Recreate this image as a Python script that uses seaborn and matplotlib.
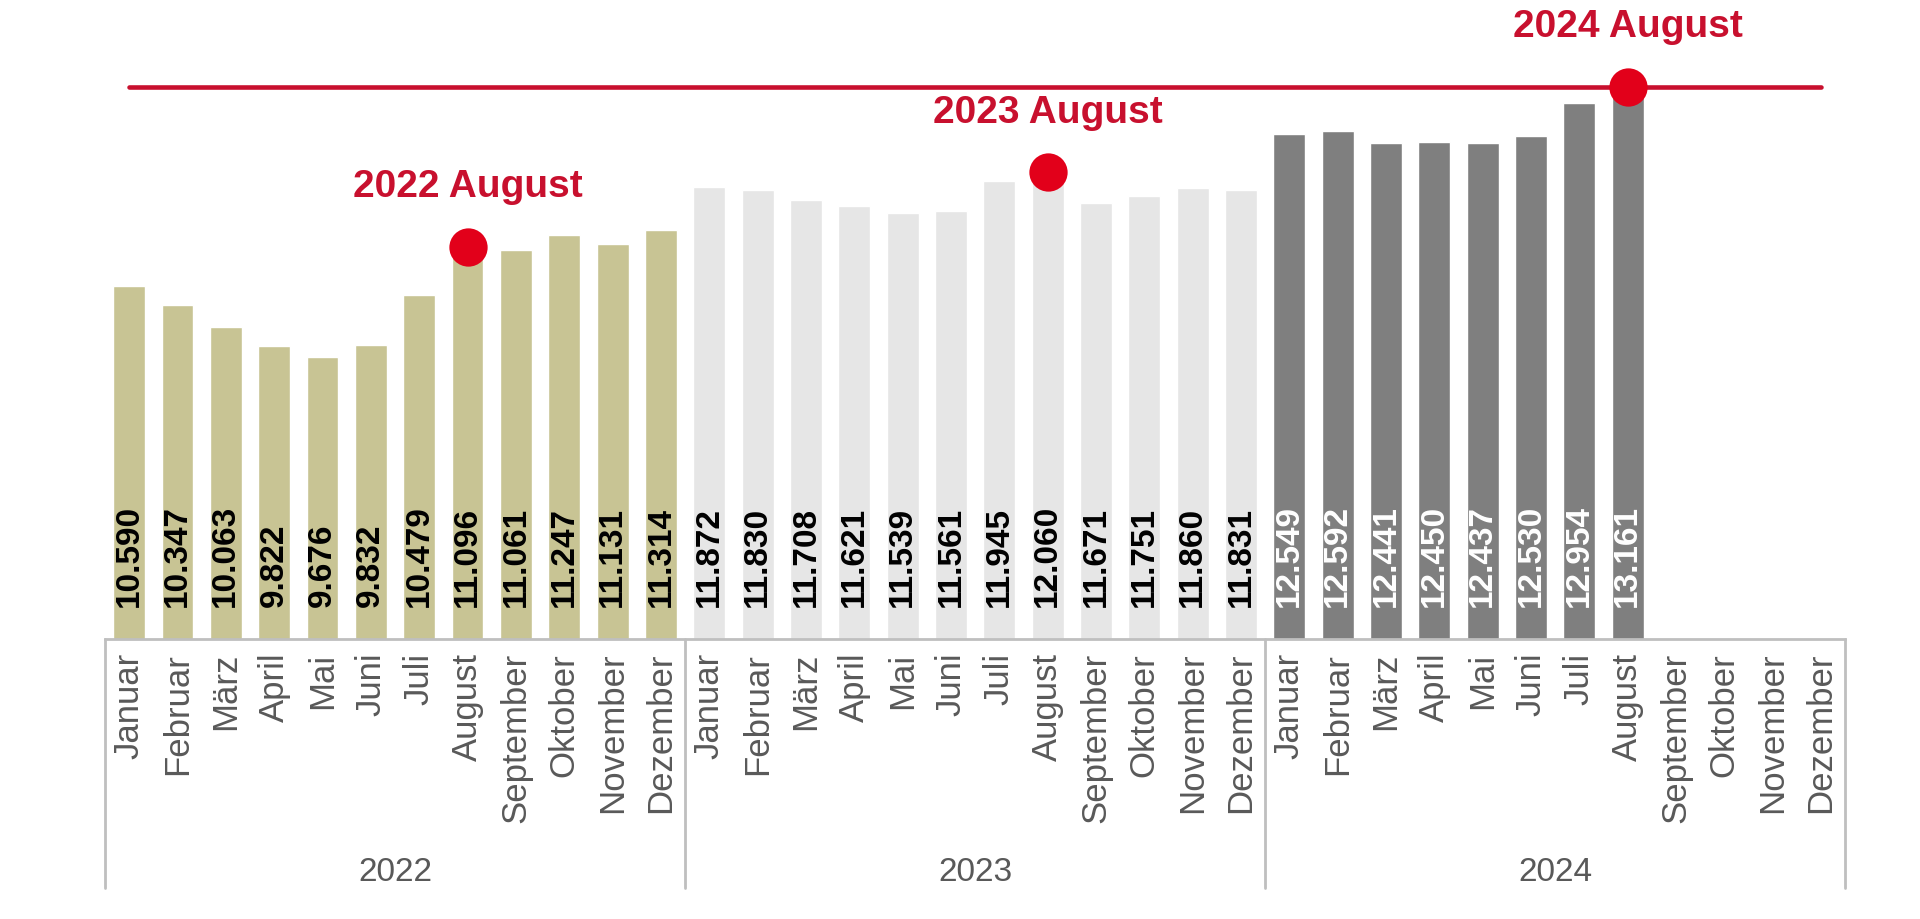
import numpy as np
import pandas as pd
import matplotlib
matplotlib.use("Agg")
import matplotlib.pyplot as plt
import matplotlib.transforms as mtransforms
import seaborn as sns

# Daten
jahre = ["2022", "2023", "2024"]
monate = ["Januar", "Februar", "März", "April", "Mai", "Juni", "Juli",
          "August", "September", "Oktober", "November", "Dezember"]
werte_2022 = [10590, 10347, 10063, 9822, 9676, 9832, 10479, 11096, 11061, 11247, 11131, 11314]
werte_2023 = [11872, 11830, 11708, 11621, 11539, 11561, 11945, 12060, 11671, 11751, 11860, 11831]
werte_2024 = [12549, 12592, 12441, 12450, 12437, 12530, 12954, 13161]
markierungen = ["2022 August", "2023 August", "2024 August"]

farben = {"2022": "#C8C494", "2023": "#E6E6E6", "2024": "#7F7F7F"}
textfarben = {"2022": "black", "2023": "black", "2024": "white"}
rot_linie = "#C8102E"
rot_punkt = "#E2001A"
grau_text = "#595959"
grau_rahmen = "#BFBFBF"

alle_werte = {"2022": werte_2022, "2023": werte_2023, "2024": werte_2024}
zeilen = []
for jahr in jahre:
    for i, monat in enumerate(monate):
        w = alle_werte[jahr][i] if i < len(alle_werte[jahr]) else np.nan
        zeilen.append({"Schluessel": f"{jahr}-{monat}", "Jahr": jahr, "Monat": monat, "Wert": w})
df = pd.DataFrame(zeilen)
reihenfolge = list(df["Schluessel"])

sns.set_style("white")
plt.rcParams["font.family"] = ["Liberation Sans", "DejaVu Sans"]

fig = plt.figure(figsize=(19.2, 9.19), dpi=100)
ax = fig.add_axes([0.0547, 0.3047, 0.9063, 0.6953])

sns.barplot(data=df.dropna(), x="Schluessel", y="Wert", hue="Jahr", order=reihenfolge,
            palette=farben, dodge=False, width=0.66, legend=False, ax=ax, saturation=1)

basis = 6050
ax.set_xlim(-0.5, len(reihenfolge) - 0.5)
ax.set_ylim(basis, 14280)

# Beschriftungen in den Balken
for pos, zeile in df.iterrows():
    if np.isnan(zeile["Wert"]):
        continue
    ax.annotate(f"{zeile['Wert'] / 1000:.3f}", xy=(pos, basis), xytext=(0, 23),
                textcoords="offset points", rotation=90, ha="center", va="bottom",
                fontsize=24, fontweight="bold", color=textfarben[zeile["Jahr"]])

# Rote Linie auf Höhe des Maximums
maximum = df["Wert"].max()
ax.plot([0, len(reihenfolge) - 1], [maximum, maximum], color=rot_linie, lw=3.3, zorder=3)

# August-Punkte mit Beschriftung
for jahr, text in zip(jahre, markierungen):
    pos = reihenfolge.index(f"{jahr}-August")
    wert = df.loc[pos, "Wert"]
    ax.scatter([pos], [wert], s=760, color=rot_punkt, zorder=4, linewidths=0)
    ax.annotate(text, xy=(pos, wert), xytext=(0, 43), textcoords="offset points",
                ha="center", va="center", fontsize=28, fontweight="bold", color=rot_linie)

# Achsen
sns.despine(ax=ax, left=True, top=True, right=True)
ax.spines["bottom"].set_color(grau_rahmen)
ax.spines["bottom"].set_linewidth(2)
ax.set_yticks([])
ax.set_ylabel("")
ax.set_xlabel("")
ax.set_xticks(range(len(reihenfolge)))
ax.set_xticklabels(list(df["Monat"]), rotation=90, fontsize=25, color=grau_text)
ax.tick_params(axis="x", length=0, pad=10)

# Trennlinien und Jahresbeschriftung unter der Achse
trans = mtransforms.blended_transform_factory(ax.transData, ax.transAxes)
for x in [-0.5, 11.5, 23.5, 35.5]:
    ax.plot([x, x], [0, -0.39], transform=trans, color=grau_rahmen, lw=2, clip_on=False)
for i, jahr in enumerate(jahre):
    ax.text(i * 12 + 5.5, -0.366, jahr, transform=trans, ha="center", va="center",
            fontsize=24, color=grau_text)

plt.savefig("out.png", dpi=100)
